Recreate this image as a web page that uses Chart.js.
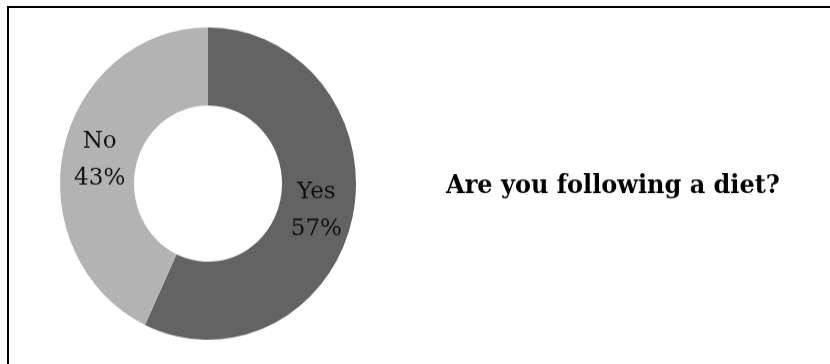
<!DOCTYPE html>
<html>
<head>
<meta charset="utf-8">
<script src="https://cdn.jsdelivr.net/npm/chart.js@4.4.1/dist/chart.umd.min.js"></script>
<style>
  html, body { margin: 0; padding: 0; background: #ffffff; }
  body { width: 830px; height: 364px; position: relative; overflow: hidden; }
  .frame {
    position: absolute; left: 7px; top: 6px; width: 900px; height: 400px;
    border-left: 2px solid #000; border-top: 2px solid #000;
  }
  .stage {
    position: absolute; left: 0; top: 0; width: 830px; height: 345px;
    transform: scaleY(1.055); transform-origin: 0 0;
  }
</style>
</head>
<body>
<div class="frame"></div>
<div class="stage"><canvas id="chart"></canvas></div>
<script>
const categories = ['Yes', 'No'];
const percentages = [57, 43];
const sliceColors = ['#636363', '#b3b3b3'];
const chartTitle = 'Are you following a diet?';

// Two-line "Category / NN%" labels placed at each arc's centre.
const sliceLabels = {
  id: 'sliceLabels',
  afterDatasetsDraw(chart) {
    const ctx = chart.ctx;
    const meta = chart.getDatasetMeta(0);
    ctx.save();
    ctx.fillStyle = '#111111';
    ctx.font = '23px "DejaVu Serif"';
    ctx.textAlign = 'center';
    ctx.textBaseline = 'middle';
    meta.data.forEach((arc, i) => {
      const p = arc.tooltipPosition();
      ctx.fillText(categories[i], p.x, p.y - 16);
      ctx.fillText(percentages[i] + '%', p.x, p.y + 19);
    });
    ctx.restore();
  }
};

// Question text to the right of the doughnut.
const sideTitle = {
  id: 'sideTitle',
  afterDraw(chart) {
    const ctx = chart.ctx;
    ctx.save();
    ctx.fillStyle = '#000';
    ctx.font = 'bold 24px "DejaVu Serif"';
    ctx.textAlign = 'center';
    ctx.textBaseline = 'middle';
    ctx.fillText(chartTitle, 613, 177);
    ctx.restore();
  }
};

new Chart(document.getElementById('chart'), {
  type: 'doughnut',
  data: {
    labels: categories,
    datasets: [{
      data: percentages,
      backgroundColor: sliceColors,
      borderWidth: 0
    }]
  },
  options: {
    responsive: true,
    maintainAspectRatio: false,
    animation: false,
    cutout: '50%',
    rotation: 0,
    layout: { padding: { left: 60, right: 474, top: 26, bottom: 23 } },
    plugins: {
      legend: { display: false },
      tooltip: { enabled: false },
      title: { display: false }
    }
  },
  plugins: [sliceLabels, sideTitle]
});
</script>
</body>
</html>
